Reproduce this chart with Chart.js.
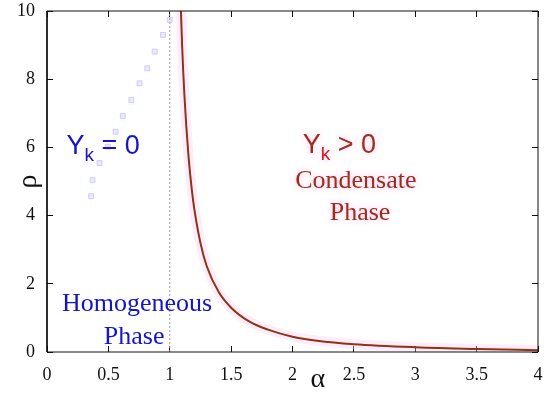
<!DOCTYPE html>
<html>
<head>
<meta charset="utf-8">
<script src="https://cdn.jsdelivr.net/npm/chart.js@4.4.1/dist/chart.umd.min.js"></script>
<style>
  html, body { margin: 0; padding: 0; background: #fff; }
  #wrap { width: 550px; height: 393px; }
</style>
</head>
<body>
<div id="wrap"><canvas id="phaseChart"></canvas></div>
<script>
// critical line rho_c(alpha)
const alphaVals = [1.085, 1.10, 1.12, 1.15, 1.18, 1.20, 1.25, 1.30, 1.40, 1.50, 1.65, 1.80, 2.0, 2.2, 2.5, 3.0, 3.5, 4.0];
const rhoVals   = [10.7, 9.05, 7.5, 5.87, 4.75, 4.2, 3.2, 2.53, 1.75, 1.30, 0.89, 0.656, 0.45, 0.333, 0.23, 0.14, 0.088, 0.053];

// faint square markers in the left region
const ghostAlpha = [0.36, 0.371, 0.428, 0.496, 0.559, 0.618, 0.687, 0.754, 0.817, 0.877, 0.945, 1.0];
const ghostRho   = [4.57, 5.04, 5.54, 6.02, 6.46, 6.92, 7.39, 7.88, 8.32, 8.81, 9.30, 9.74];

// dotted line at alpha = 1
const dividerAlpha = [1, 1];
const dividerRho = [0, 10];

const xMin = 0, xMax = 4, xStep = 0.5;
const yMin = 0, yMax = 10, yStep = 2;

// box around the plot, corner to corner
const frameX = [xMin, xMax, xMax, xMin, xMin];
const frameY = [yMin, yMin, yMax, yMax, yMin];

function toPoints(xs, ys) {
    return xs.map((x, i) => ({ x: x, y: ys[i] }));
}

// phase labels, placed in data coordinates
const labelPlugin = {
    id: 'phaseLabels',
    afterDraw(chart) {
        const { ctx, scales } = chart;
        const X = v => scales.x.getPixelForValue(v);
        const Y = v => scales.y.getPixelForValue(v);
        const blue = '#1414c8';
        const red = '#9a2e1a';

        function yk(x, y, rest, mainColor, subColor, glow) {
            ctx.save();
            if (glow) { ctx.shadowColor = 'rgba(255,180,235,0.9)'; ctx.shadowBlur = 6; }
            ctx.textAlign = 'left';
            ctx.textBaseline = 'alphabetic';
            ctx.font = '27px "Liberation Sans", Arial, sans-serif';
            ctx.fillStyle = mainColor;
            ctx.fillText('Y', x, y);
            let w = ctx.measureText('Y').width;
            ctx.font = '19px "Liberation Sans", Arial, sans-serif';
            ctx.fillStyle = subColor;
            ctx.fillText('k', x + w, y + 7);
            w += ctx.measureText('k').width;
            ctx.font = '27px "Liberation Sans", Arial, sans-serif';
            ctx.fillStyle = mainColor;
            ctx.fillText(rest, x + w, y);
            ctx.restore();
        }

        function serif(text, x, y, color, glow) {
            ctx.save();
            if (glow) { ctx.shadowColor = 'rgba(255,180,235,0.9)'; ctx.shadowBlur = 6; }
            ctx.font = '26px "Liberation Serif", "Times New Roman", serif';
            ctx.fillStyle = color;
            ctx.textAlign = 'center';
            ctx.textBaseline = 'alphabetic';
            ctx.fillText(text, x, y);
            ctx.restore();
        }

        yk(X(0.159), Y(5.81), ' = 0', blue, blue, false);
        yk(X(2.084), Y(5.84), ' > 0', red, '#e01818', true);
        serif('Condensate', X(2.516), Y(4.81), red, true);
        serif('Phase', X(2.55), Y(3.87), red, true);
        serif('Homogeneous', X(0.734), Y(1.20), blue, false);
        serif('Phase', X(0.71), Y(0.235), blue, false);

        // alpha label sits in the tick-label row, between 2 and 2.5
        ctx.save();
        ctx.font = '28px "Liberation Serif", "Times New Roman", serif';
        ctx.fillStyle = '#111';
        ctx.textAlign = 'center';
        ctx.textBaseline = 'alphabetic';
        ctx.fillText('α', X(2.206), scales.x.bottom - 6);
        ctx.restore();
    }
};

const tickFont = { family: '"Liberation Serif", "Times New Roman", serif', size: 18 };
// short ticks pointing into the plot (negative length), no grid lines
const inwardGrid = { display: true, drawOnChartArea: false, drawTicks: true, tickLength: -6, color: '#111', lineWidth: 1 };

new Chart(document.getElementById('phaseChart'), {
    type: 'scatter',
    data: {
        datasets: [
            {
                label: 'rho_c',
                data: toPoints(alphaVals, rhoVals),
                showLine: true,
                borderColor: '#8c3512',
                borderWidth: 2,
                pointRadius: 0,
                cubicInterpolationMode: 'monotone',
                clip: 0,
                order: 1
            },
            {
                label: 'halo',
                data: toPoints(alphaVals, rhoVals),
                showLine: true,
                borderColor: 'rgba(255,200,240,0.35)',
                borderWidth: 10,
                pointRadius: 0,
                cubicInterpolationMode: 'monotone',
                clip: 0,
                order: 4
            },
            {
                label: 'alpha = 1',
                data: toPoints(dividerAlpha, dividerRho),
                showLine: true,
                borderColor: '#9a9a9a',
                borderWidth: 1,
                borderDash: [2, 2],
                pointRadius: 0,
                order: 3
            },
            {
                label: 'ghost',
                data: toPoints(ghostAlpha, ghostRho),
                showLine: false,
                pointStyle: 'rect',
                pointRadius: 3.5,
                backgroundColor: 'rgba(195,252,252,1)',
                borderColor: 'rgba(255,165,240,0.75)',
                borderWidth: 1,
                order: 5
            },
            {
                label: 'frame',
                data: toPoints(frameX, frameY),
                showLine: true,
                borderColor: '#111',
                borderWidth: 1,
                pointRadius: 0,
                tension: 0,
                clip: false,
                order: 0
            }
        ]
    },
    options: {
        responsive: true,
        maintainAspectRatio: false,
        animation: false,
        layout: { autoPadding: false, padding: { top: 11, right: 12, left: 0, bottom: 0 } },
        plugins: {
            legend: { display: false },
            tooltip: { enabled: false }
        },
        scales: {
            x: {
                type: 'linear',
                min: xMin,
                max: xMax,
                ticks: {
                    stepSize: xStep,
                    font: tickFont,
                    color: '#111',
                    padding: 18,
                    maxRotation: 0,
                    callback: v => String(v)
                },
                grid: inwardGrid,
                border: { display: false },
                afterFit: s => {
                    s.height = 41;
                    s.paddingLeft = 0;
                    s.paddingRight = 0;
                }
            },
            y: {
                type: 'linear',
                min: yMin,
                max: yMax,
                ticks: {
                    stepSize: yStep,
                    font: tickFont,
                    color: '#111',
                    padding: 18,
                    callback: v => String(v)
                },
                grid: inwardGrid,
                border: { display: false },
                title: {
                    display: true,
                    text: 'ρ',
                    font: { family: '"Liberation Serif", "Times New Roman", serif', size: 28 },
                    color: '#111',
                    padding: { top: 12, bottom: 0 }
                },
                afterFit: s => {
                    s.width = 47;
                    s.paddingTop = 0;
                    s.paddingBottom = 0;
                }
            },
            // top and right axes only carry the inward ticks
            xTop: {
                type: 'linear',
                position: 'top',
                min: xMin,
                max: xMax,
                ticks: { display: false, stepSize: xStep },
                grid: inwardGrid,
                border: { display: false },
                afterFit: s => {
                    s.height = 0;
                    s.paddingLeft = 0;
                    s.paddingRight = 0;
                }
            },
            yRight: {
                type: 'linear',
                position: 'right',
                min: yMin,
                max: yMax,
                ticks: { display: false, stepSize: yStep },
                grid: inwardGrid,
                border: { display: false },
                afterFit: s => {
                    s.width = 0;
                    s.paddingTop = 0;
                    s.paddingBottom = 0;
                }
            }
        }
    },
    plugins: [labelPlugin]
});
</script>
</body>
</html>
